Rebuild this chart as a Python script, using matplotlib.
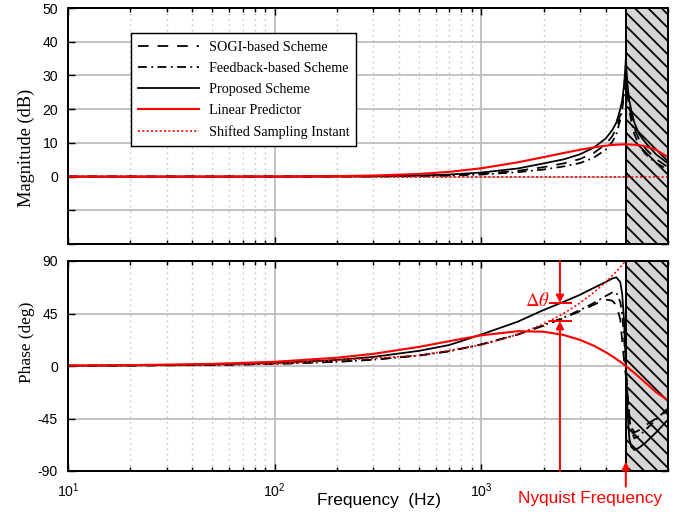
import matplotlib
matplotlib.use('Agg')
import matplotlib.pyplot as plt

plt.rcParams['font.family'] = 'Liberation Sans'
plt.rcParams['axes.unicode_minus'] = False
plt.rcParams['hatch.linewidth'] = 1.6

# frequency grid (Hz) shared by the curves
freq = [10, 20, 50, 100, 200, 300, 500, 700, 1000, 1500, 2000, 2500, 3000, 3500, 4000,
        4300, 4500, 4700, 4800, 4900, 4950, 5000, 5050, 5100, 5200, 5300, 5500, 5800,
        6200, 7000, 8000]

# magnitude (dB)
mag_sogi = [0, 0, 0, 0.01, 0.03, 0.07, 0.2, 0.4, 0.8, 1.7, 2.8, 3.9, 5.2, 7.0, 9.6,
            12.0, 14.3, 18.3, 21.0, 25.5, 28.5, 32.0, 28.5, 25.5, 21.0, 18.3, 14.3, 11.0,
            8.4, 5.2, 2.8]
mag_fb = [0, 0, 0, 0.01, 0.02, 0.05, 0.15, 0.3, 0.6, 1.3, 2.1, 3.0, 4.0, 5.6, 8.0,
          10.3, 12.6, 16.8, 19.8, 24.5, 27.5, 31.0, 27.5, 24.5, 19.8, 16.8, 12.6, 9.3,
          6.8, 4.0, 2.1]
mag_prop = [0, 0, 0, 0.01, 0.05, 0.1, 0.3, 0.6, 1.2, 2.4, 3.9, 5.1, 6.6, 8.6, 11.3,
            13.8, 16.0, 20.0, 22.5, 27.0, 30.5, 35.0, 30.5, 27.0, 22.5, 20.0, 16.0, 12.6,
            10.2, 6.6, 3.9]
mag_lp = [0, 0, 0.01, 0.03, 0.13, 0.30, 0.78, 1.40, 2.46, 4.23, 5.76, 6.99, 7.95, 8.66, 9.16,
          9.36, 9.45, 9.51, 9.53, 9.54, 9.54, 9.54, 9.54, 9.54, 9.53, 9.51, 9.45, 9.30,
          8.99, 7.95, 5.76]

# phase (deg)
phase_sogi = [0.2, 0.4, 0.9, 1.8, 3.6, 5.5, 9, 12.7, 18.5, 27, 34.5, 41, 47, 52.5, 57,
              56, 52, 40, 22, 5, -2, -8, -15, -25, -42, -52, -57, -55,
              -51, -45, -38]
phase_fb = [0.2, 0.4, 0.9, 1.8, 3.6, 5.4, 9, 12.6, 18.5, 27, 35, 41.5, 48, 54, 60,
            63, 63, 55, 45, 25, 12, 0, -12, -25, -45, -55, -62, -60,
            -55, -46, -36]
phase_prop = [0.3, 0.5, 1.3, 2.6, 5.2, 7.8, 13, 18, 27, 38, 48, 55, 61, 67, 72,
              75, 76, 72, 62, 40, 20, 0, -20, -40, -62, -69, -72, -70,
              -66, -57, -46]
phase_lp = [0.36, 0.72, 1.8, 3.6, 7.1, 10.4, 16.4, 21.3, 26.3, 29.8, 29.4, 26.6, 22.4, 17.4, 11.8,
            8.3, 6.0, 3.6, 2.4, 1.2, 0.6, 0, -0.6, -1.2, -2.4, -3.6, -6.0, -9.5,
            -14.1, -22.4, -29.4]

# shifted sampling instant
freq_shift_mag = [10, 8000]
mag_shift = [0, 0]
freq_shift = [10, 100, 500, 1000, 1500, 2000, 2500, 3000, 3500, 4000, 4500, 5000]
phase_shift = [0.18, 1.8, 9, 18, 27, 36, 45, 54, 63, 72, 81, 90]

f_nyq = 5000
f_max = 8000
f_dtheta = 2400
dtheta_top = 54
dtheta_bot = 38.6

mag_ticks = [-20, -10, 0, 10, 20, 30, 40, 50]
mag_ticklabels = ['', '', '0', '10', '20', '30', '40', '50']
phase_ticks = [-90, -45, 0, 45, 90]
phase_ticklabels = ['-90', '-45', '0', '45', '90']

DPI = 80
fig = plt.figure(figsize=(698 / DPI, 512 / DPI), dpi=DPI)
ax1 = fig.add_axes([68 / 698, 1 - 244 / 512, 600 / 698, 236 / 512])
ax2 = fig.add_axes([68 / 698, 1 - 471 / 512, 600 / 698, 210 / 512], sharex=ax1)

sogi_style = dict(color='black', lw=1.6, dashes=(6, 5))
fb_style = dict(color='black', lw=1.6, dashes=(5, 2.5, 1, 2.5))
prop_style = dict(color='black', lw=1.6, ls='-')
lp_style = dict(color='#ff0000', lw=1.9, ls='-')
shift_style = dict(color='#ff0000', lw=1.5, dashes=(1.2, 1.4))

ax1.plot(freq, mag_sogi, label='SOGI-based Scheme', **sogi_style)
ax1.plot(freq, mag_fb, label='Feedback-based Scheme', **fb_style)
ax1.plot(freq, mag_prop, label='Proposed Scheme', **prop_style)
ax1.plot(freq, mag_lp, label='Linear Predictor', **lp_style)
ax1.plot(freq_shift_mag, mag_shift, label='Shifted Sampling Instant', **shift_style)

ax2.plot(freq, phase_sogi, **sogi_style)
ax2.plot(freq, phase_fb, **fb_style)
ax2.plot(freq, phase_prop, **prop_style)
ax2.plot(freq, phase_lp, **lp_style)
ax2.plot(freq_shift, phase_shift, **shift_style)

for ax in (ax1, ax2):
    ax.set_xscale('log')
    ax.set_xlim(10, f_max)
    ax.set_axisbelow(True)
    ax.axvspan(f_nyq, f_max, facecolor='#d6d6d6', edgecolor='black', hatch='\\\\', lw=1.8, zorder=1)
    ax.grid(which='major', color='#b4b4b4', lw=1.4, ls='-')
    ax.grid(which='minor', axis='x', color='#b4b4b4', lw=1.2, ls=(0, (1, 3)))
    ax.tick_params(which='both', direction='in', top=True, right=True, width=1.3,
                   labelsize=12.6, pad=9)
    ax.tick_params(which='major', length=6)
    ax.tick_params(which='minor', length=3.5)
    for s in ax.spines.values():
        s.set_linewidth(1.8)

ax1.set_ylim(-20, 50)
ax1.set_yticks(mag_ticks)
ax1.set_yticklabels(mag_ticklabels)
ax1.tick_params(labelbottom=False)

ax2.set_ylim(-90, 90)
ax2.set_yticks(phase_ticks)
ax2.set_yticklabels(phase_ticklabels)

ax1.set_ylabel('Magnitude (dB)', family='Liberation Serif', fontsize=16.5)
ax1.yaxis.set_label_coords(-0.055, 0.407)
ax2.set_ylabel('Phase (deg)', family='Liberation Serif', fontsize=15.5)
ax2.yaxis.set_label_coords(-0.055, 0.614)

leg = ax1.legend(loc='upper left', bbox_to_anchor=(0.105, 0.892), borderaxespad=0,
                 prop={'family': 'Liberation Serif', 'size': 12.7},
                 handlelength=4.3, handletextpad=0.7, labelspacing=0.58,
                 borderpad=0.5, fancybox=False, framealpha=1)
leg.get_frame().set_edgecolor('black')
leg.get_frame().set_linewidth(1.3)

# delta theta annotation
arrow = dict(arrowstyle='-|>', color='#ff0000', lw=1.8, mutation_scale=14, shrinkA=0, shrinkB=0)
ax2.annotate('', xy=(f_dtheta, dtheta_top), xytext=(f_dtheta, 90), arrowprops=arrow, zorder=5)
ax2.annotate('', xy=(f_dtheta, dtheta_bot), xytext=(f_dtheta, -90), arrowprops=arrow, zorder=5)
ax2.plot([2150, 2700], [dtheta_top, dtheta_top], color='#ff0000', lw=1.8, zorder=5)
ax2.plot([2150, 2700], [dtheta_bot, dtheta_bot], color='#ff0000', lw=1.8, zorder=5)
ax2.text(2140, 55.7, r'$\Delta\theta$', color='#ff0000', fontsize=17, ha='right', va='center',
         math_fontfamily='stix')

# Nyquist arrow
ax2.annotate('', xy=(f_nyq, -82), xytext=(0, -25), textcoords='offset pixels',
             arrowprops=arrow, annotation_clip=False)
fig.text(590 / 698, 1 - 499 / 512, 'Nyquist Frequency', color='#ff0000', fontsize=15.5,
         ha='center', va='center')
fig.text(379 / 698, 1 - 501 / 512, 'Frequency  (Hz)', fontsize=15.5, ha='center', va='center')

fig.savefig('out.png', dpi=DPI)
